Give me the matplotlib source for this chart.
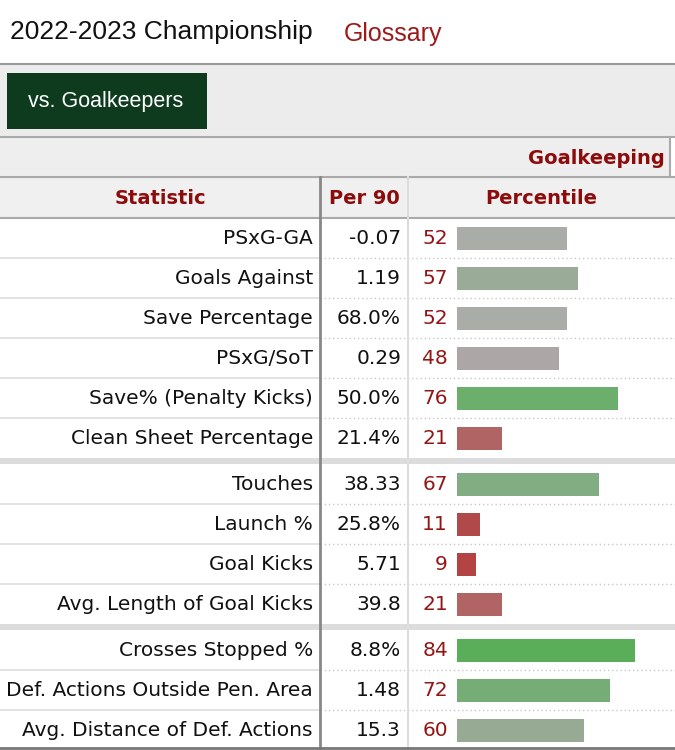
import matplotlib
matplotlib.use("Agg")
import matplotlib.pyplot as plt
from matplotlib.patches import Rectangle

# table data
statistics = ["PSxG-GA", "Goals Against", "Save Percentage", "PSxG/SoT",
              "Save% (Penalty Kicks)", "Clean Sheet Percentage",
              "Touches", "Launch %", "Goal Kicks", "Avg. Length of Goal Kicks",
              "Crosses Stopped %", "Def. Actions Outside Pen. Area",
              "Avg. Distance of Def. Actions"]
per90 = ["-0.07", "1.19", "68.0%", "0.29", "50.0%", "21.4%",
         "38.33", "25.8%", "5.71", "39.8",
         "8.8%", "1.48", "15.3"]
percentiles = [52, 57, 52, 48, 76, 21, 67, 11, 9, 21, 84, 72, 60]
groups = [0, 0, 0, 0, 0, 0, 1, 1, 1, 1, 2, 2, 2]
bar_colors = ["#a9aca7", "#9aab98", "#a9aca7", "#aca6a6", "#6cae6c", "#b06464",
              "#82ac82", "#b04a4a", "#b44444", "#b06464",
              "#5aae5a", "#76ac76", "#96aa94"]

W, H = 675, 750
red = "#8c0c0c"
num_red = "#931616"
fig = plt.figure(figsize=(6.75, 7.5), dpi=100)
bg = fig.add_axes([0, 0, 1, 1])
bg.set_xlim(0, W)
bg.set_ylim(H, 0)
bg.axis("off")

row_h, top, gap = 40, 218, 6
row_y = [top + row_h * (i + 0.5) + gap * g for i, g in enumerate(groups)]

# header area
bg.text(10, 32, "2022-2023 Championship", fontsize=19, family="Liberation Sans",
        va="center", color="#111111")
bg.text(344, 34, "Glossary", fontsize=18, family="Liberation Sans", va="center", color="#9c1a1a")
bg.add_patch(Rectangle((0, 64), W, 73, fc="#ececec", ec="none"))
bg.plot([0, W], [64, 64], color="#999999", lw=1.5)
bg.plot([0, W], [137, 137], color="#aaaaaa", lw=1.5)
bg.add_patch(Rectangle((7, 73), 200, 56, fc="#0e3b1e", ec="none"))
bg.text(106, 102, "vs. Goalkeepers", fontsize=15.5, family="Liberation Sans",
        color="white", ha="center", va="center")

bg.add_patch(Rectangle((0, 137), 670, 40, fc="#eeeeee", ec="none"))
bg.plot([670, 670], [137, 177], color="#aaaaaa", lw=1.5)
bg.text(665, 158, "Goalkeeping", fontsize=14, weight="bold", color=red, ha="right", va="center")
bg.plot([0, W], [177, 177], color="#aaaaaa", lw=1.5)

bg.add_patch(Rectangle((0, 177), W, 41, fc="#f0f0f0", ec="none"))
bg.text(160, 198, "Statistic", fontsize=14, weight="bold", color=red, ha="center", va="center")
bg.text(364, 198, "Per 90", fontsize=14, weight="bold", color=red, ha="center", va="center")
bg.text(541, 198, "Percentile", fontsize=14, weight="bold", color=red, ha="center", va="center")
bg.plot([0, W], [218, 218], color="#aaaaaa", lw=1.5)

# group separators
for g in range(1, 3):
    first = groups.index(g)
    y0 = row_y[first] - row_h / 2 - gap
    bg.add_patch(Rectangle((0, y0), W, gap, fc="#dcdcdc", ec="none"))

# row lines
for i in range(len(statistics) - 1):
    if groups[i] == groups[i + 1]:
        yl = row_y[i] + row_h / 2
        bg.plot([0, 320], [yl, yl], color="#dddddd", lw=1.2)
        bg.plot([320, W], [yl, yl], color="#c8c8c8", lw=1, ls=(0, (1, 2)))

bg.plot([320, 320], [177, H], color="#888888", lw=2)
bg.plot([408, 408], [177, H], color="#dddddd", lw=1.5)
bg.plot([0, W], [748, 748], color="#777777", lw=2)

for y, s, v, p in zip(row_y, statistics, per90, percentiles):
    bg.text(313, y, s, fontsize=14.5, ha="right", va="center", color="#111111")
    bg.text(401, y, v, fontsize=14.5, ha="right", va="center", color="#111111")
    bg.text(448, y, str(p), fontsize=14.5, ha="right", va="center", color=num_red)

# percentile bars
bars = fig.add_axes([457 / W, 0, 212 / W, 1])
bars.set_xlim(0, 100)
bars.set_ylim(H, 0)
bars.axis("off")
bars.barh(row_y, percentiles, height=23, color=bar_colors, edgecolor="none")

fig.savefig("out.png", dpi=100)
